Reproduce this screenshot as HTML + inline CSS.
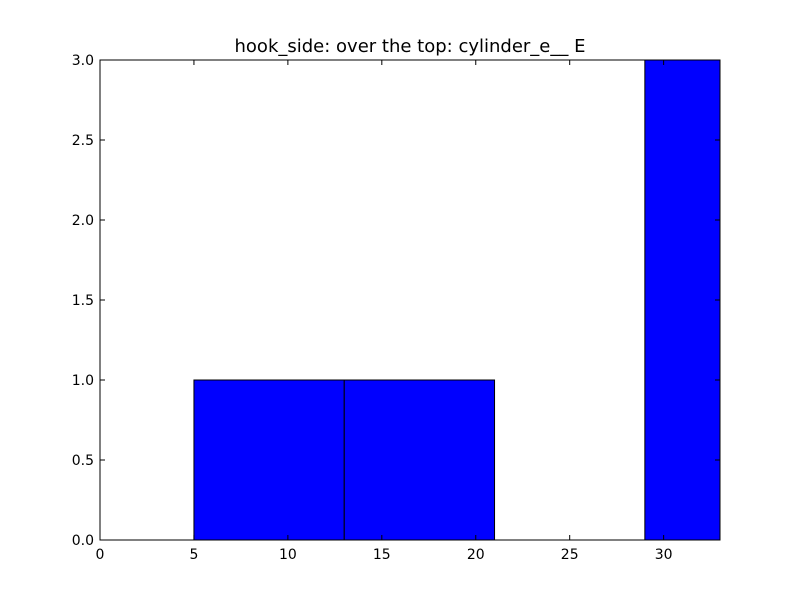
<!DOCTYPE html>
<html><head><meta charset="utf-8"><style>
body{margin:0;background:#fff;}
svg{display:block;font-family:"DejaVu Sans","Liberation Sans",sans-serif;}
</style></head><body>
<svg id="chart" width="800" height="600">
<rect width="800" height="600" fill="#fff"/>
<text x="410" y="52" font-size="18" text-anchor="middle">hook_side: over the top: cylinder_e__ E</text>
<defs><clipPath id="clip"><rect x="100" y="60" width="620" height="480"/></clipPath></defs>
<g id="bars" clip-path="url(#clip)"></g>
<g id="ticks"></g>
<rect x="100" y="60" width="620" height="480" fill="none" stroke="#000" stroke-width="1"/>
</svg>
<script>
const binEdges = [-3, 5, 13, 21, 29, 37];
const counts = [0, 1, 1, 0, 3];
const xTicks = [0, 5, 10, 15, 20, 25, 30];
const yTicks = [0, 0.5, 1, 1.5, 2, 2.5, 3];
const yTickLabels = ["0.0","0.5","1.0","1.5","2.0","2.5","3.0"];
const L=100,R=720,T=60,B=540,xMax=33,yMax=3;
const xs=v=>L+v/xMax*(R-L), ys=v=>B-v/yMax*(B-T);
const NS="http://www.w3.org/2000/svg";
const bars=document.getElementById('bars'), ticks=document.getElementById('ticks');
function mk(tag,at,parent){const e=document.createElementNS(NS,tag);for(const k in at)e.setAttribute(k,at[k]);parent.appendChild(e);return e;}
counts.forEach((c,i)=>{
  const x0=xs(binEdges[i]),x1=xs(binEdges[i+1]);
  const r=mk('rect',{x:x0,y:ys(c),width:x1-x0,height:ys(0)-ys(c),fill:'#0000ff',stroke:'#000','stroke-width':1},bars);
  
  
});
xTicks.forEach(v=>{
  const x=xs(v);
  mk('line',{x1:x,x2:x,y1:B,y2:B-5,stroke:'#000'},ticks);
  mk('line',{x1:x,x2:x,y1:T,y2:T+5,stroke:'#000'},ticks);
  const t=mk('text',{x:x,y:B+19,'font-size':14,'text-anchor':'middle'},ticks);
  t.textContent=v;
  
  
});
yTicks.forEach((v,i)=>{
  const y=ys(v);
  mk('line',{x1:L,x2:L+5,y1:y,y2:y,stroke:'#000'},ticks);
  mk('line',{x1:R,x2:R-5,y1:y,y2:y,stroke:'#000'},ticks);
  const t=mk('text',{x:L-6,y:y+5,'font-size':14,'text-anchor':'end'},ticks);
  t.textContent=yTickLabels[i];
  
  
});
</script>
</body></html>
